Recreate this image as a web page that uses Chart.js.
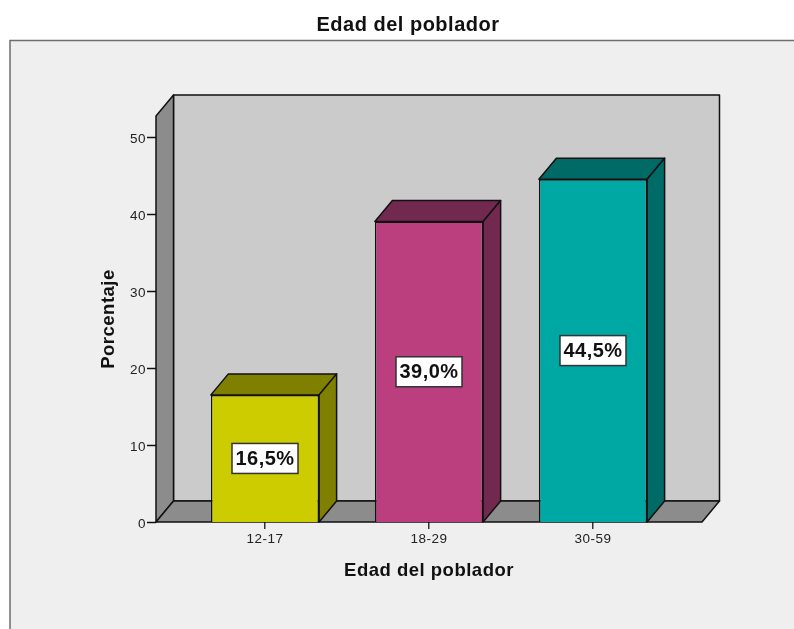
<!DOCTYPE html>
<html><head><meta charset="utf-8">
<style>html,body{margin:0;padding:0;background:#fff}canvas{display:block}</style>
<script src="https://cdn.jsdelivr.net/npm/chart.js@4"></script></head>
<body><div style="width:794px;height:629px"><canvas id="c" width="794" height="629"></canvas></div>
<script>
const categories = ["12-17", "18-29", "30-59"];
const percentages = [16.5, 39.0, 44.5];
const percentLabels = ["16,5%", "39,0%", "44,5%"];
const frontColors = ["#CCCC00", "#BB3F7F", "#00A8A3"];
const darkColors = ["#7F7F00", "#72294F", "#006A66"];
const yTicks = [0, 10, 20, 30, 40, 50];

const FONT = '"Liberation Sans", Arial, sans-serif';
const DX = 17.5, DY = 21, FLOOR_PAD = 27;
const INK = "#111";

function poly(ctx, pts, fill) {
  ctx.beginPath();
  pts.forEach((p, i) => i ? ctx.lineTo(p[0], p[1]) : ctx.moveTo(p[0], p[1]));
  ctx.closePath();
  ctx.fillStyle = fill;
  ctx.fill();
  ctx.stroke();
}

const scene = {
  id: "scene",
  beforeDraw(chart) {
    const ctx = chart.ctx;
    ctx.save();
    ctx.fillStyle = "#fff";
    ctx.fillRect(0, 0, 794, 629);
    ctx.fillStyle = "#EFEFEF";
    ctx.fillRect(10, 40, 784, 589);
    ctx.strokeStyle = "#6e6e6e";
    ctx.lineWidth = 1.5;
    ctx.beginPath();
    ctx.moveTo(10, 629); ctx.lineTo(10, 40.5); ctx.lineTo(794, 40.5);
    ctx.stroke();
    ctx.restore();
    ctx.letterSpacing = "0.5px";
  },
  beforeDatasetsDraw(chart) {
    const ctx = chart.ctx, a = chart.chartArea;
    const l = a.left - FLOOR_PAD, r = a.right + FLOOR_PAD, t = a.top, b = a.bottom;
    ctx.save();
    ctx.strokeStyle = INK;
    ctx.lineWidth = 1.5;
    ctx.lineJoin = "round";
    poly(ctx, [[l + DX, t - DY], [r + DX, t - DY], [r + DX, b - DY], [l + DX, b - DY]], "#CBCBCB");
    poly(ctx, [[l, t], [l + DX, t - DY], [l + DX, b - DY], [l, b]], "#8C8C8C");
    poly(ctx, [[l, b], [l + DX, b - DY], [r + DX, b - DY], [r, b]], "#8C8C8C");
    yTicks.forEach(v => {
      const y = Math.round(chart.scales.y.getPixelForValue(v)) + 0.5;
      ctx.beginPath(); ctx.moveTo(l - 9, y); ctx.lineTo(l, y); ctx.stroke();
    });
    const meta = chart.getDatasetMeta(0);
    meta.data.forEach((bar, i) => {
      const x0 = bar.x - bar.width / 2, x1 = bar.x + bar.width / 2;
      poly(ctx, [[x0, bar.y], [x0 + DX, bar.y - DY], [x1 + DX, bar.y - DY], [x1, bar.y]], darkColors[i]);
      poly(ctx, [[x1, bar.y], [x1 + DX, bar.y - DY], [x1 + DX, bar.base - DY], [x1, bar.base]], darkColors[i]);
    });
    ctx.restore();
  },
  afterDatasetsDraw(chart) {
    const ctx = chart.ctx;
    const meta = chart.getDatasetMeta(0);
    ctx.save();
    ctx.letterSpacing = "0.5px";
    ctx.font = "bold 20px " + FONT;
    ctx.textAlign = "center";
    ctx.textBaseline = "middle";
    meta.data.forEach((bar, i) => {
      const cy = (bar.y + bar.base) / 2;
      const w = 66, h = 30;
      ctx.fillStyle = "#fff";
      ctx.strokeStyle = "#333";
      ctx.lineWidth = 1.5;
      ctx.fillRect(bar.x - w / 2, cy - h / 2, w, h);
      ctx.strokeRect(bar.x - w / 2, cy - h / 2, w, h);
      ctx.fillStyle = "#111";
      ctx.fillText(percentLabels[i], bar.x, cy + 1);
    });
    ctx.restore();
  }
};

new Chart(document.getElementById("c"), {
  type: "bar",
  data: {
    labels: categories,
    datasets: [{
      data: percentages,
      backgroundColor: frontColors,
      borderColor: INK,
      borderWidth: 1.5,
      barPercentage: 0.66,
      categoryPercentage: 1
    }]
  },
  plugins: [scene],
  options: {
    responsive: false,
    animation: false,
    layout: { padding: { left: 22, right: 0, top: 0, bottom: 0 } },
    plugins: {
      legend: { display: false },
      tooltip: { enabled: false },
      title: {
        display: true,
        text: "Edad del poblador",
        color: "#111",
        font: { family: FONT, size: 20, weight: "bold" },
        padding: { top: 13, bottom: 79 }
      }
    },
    scales: {
      x: {
        grid: { offset: false, drawOnChartArea: false, drawTicks: true, tickLength: 7, color: "#333", lineWidth: 1.5 },
        border: { display: false },
        ticks: { color: "#222", font: { family: FONT, size: 13.5 }, padding: 2, maxRotation: 0 },
        title: {
          display: true,
          text: "Edad del poblador",
          color: "#111",
          font: { family: FONT, size: 18.5, weight: "bold" },
          padding: { top: 0, bottom: 46.5 }
        },
        afterFit(s) { s.height = 107; }
      },
      y: {
        min: 0,
        max: 52.7,
        grid: { display: false },
        border: { display: false },
        ticks: {
          stepSize: 10,
          includeBounds: false,
          color: "#222",
          font: { family: FONT, size: 13.5 },
          padding: 29,
          labelOffset: 2
        },
        title: {
          display: true,
          text: "Porcentaje",
          color: "#111",
          font: { family: FONT, size: 18.5, weight: "bold" },
          padding: { top: 76, bottom: 0 }
        },
        afterFit(s) { s.width = 161; }
      },
      rightMargin: {
        type: "linear",
        position: "right",
        grid: { display: false },
        border: { display: false },
        ticks: { display: false },
        afterFit(s) { s.width = 119; }
      }
    }
  }
});
</script></body></html>
